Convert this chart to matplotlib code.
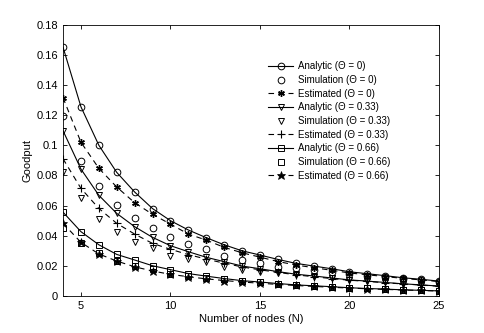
import numpy as np
import matplotlib
matplotlib.use('Agg')
import matplotlib.pyplot as plt
from matplotlib.ticker import FormatStrFormatter

plt.rcParams['font.family'] = ['Liberation Sans', 'DejaVu Sans']

# number of nodes
nodes = np.arange(4, 26)

# Theta = 0
analytic_0 = [0.165, 0.1255, 0.100, 0.082, 0.069, 0.058, 0.050, 0.0438, 0.0387, 0.034, 0.030,
              0.0272, 0.0243, 0.0217, 0.0199, 0.0181, 0.0161, 0.0148, 0.0135, 0.0121, 0.0111, 0.0099]
sim_0 = [0.1196, 0.0893, 0.073, 0.0603, 0.0517, 0.0449, 0.0391, 0.0343, 0.031, 0.0265, 0.0237,
         0.0217, 0.0194, 0.0183, 0.0170, 0.0158, 0.0146, 0.0136, 0.0126, 0.0115, 0.0106, 0.0096]
est_0 = [0.1315, 0.102, 0.0847, 0.0723, 0.0619, 0.0542, 0.0477, 0.0411, 0.0371, 0.0323, 0.0287,
         0.0258, 0.0229, 0.0206, 0.0188, 0.0171, 0.0153, 0.0141, 0.0129, 0.0117, 0.0107, 0.0096]

# Theta = 0.33
analytic_33 = [0.1096, 0.0842, 0.0668, 0.0548, 0.046, 0.0389, 0.0334, 0.0294, 0.0257, 0.0228, 0.0199,
               0.0181, 0.0162, 0.0145, 0.0133, 0.0120, 0.0107, 0.0099, 0.0090, 0.0081, 0.0074, 0.0066]
sim_33 = [0.0822, 0.0648, 0.0511, 0.0427, 0.036, 0.0316, 0.0268, 0.0248, 0.0228, 0.0195, 0.0172,
          0.0161, 0.0150, 0.0139, 0.0128, 0.0117, 0.0106, 0.0098, 0.0090, 0.0082, 0.0075, 0.0068]
est_33 = [0.091, 0.0714, 0.0581, 0.0482, 0.0411, 0.0349, 0.031, 0.0275, 0.0245, 0.0218, 0.0193,
          0.0174, 0.0157, 0.0141, 0.0128, 0.0116, 0.0105, 0.0097, 0.0088, 0.0080, 0.0073, 0.0065]

# Theta = 0.66
analytic_66 = [0.0556, 0.0427, 0.034, 0.0276, 0.0239, 0.0201, 0.0175, 0.0149, 0.0132, 0.0116, 0.0102,
               0.0093, 0.0083, 0.0074, 0.0068, 0.0062, 0.0055, 0.0050, 0.0046, 0.0041, 0.0038, 0.0034]
sim_66 = [0.0449, 0.0349, 0.0283, 0.0234, 0.0199, 0.0179, 0.0146, 0.0135, 0.0122, 0.0110, 0.0098,
          0.0090, 0.0081, 0.0073, 0.0067, 0.0061, 0.0055, 0.0050, 0.0046, 0.0042, 0.0038, 0.0035]
est_66 = [0.0482, 0.0356, 0.0279, 0.0232, 0.0194, 0.0166, 0.0144, 0.0128, 0.0114, 0.0103, 0.0093,
          0.0085, 0.0077, 0.0070, 0.0064, 0.0058, 0.0053, 0.0048, 0.0044, 0.0040, 0.0037, 0.0033]

fig = plt.figure(figsize=(4.85, 3.33), dpi=100)
ax = fig.add_axes([0.130, 0.111, 0.775, 0.815])

ms = 4.8
lw = 0.8
dash = (5, 4)
mk = dict(markerfacecolor='none', markeredgecolor='k', markeredgewidth=0.7, markersize=ms)

ax.plot(nodes, analytic_0, '-o', color='k', lw=lw, label='Analytic (Θ = 0)', **mk)
ax.plot(nodes, sim_0, 'o', color='k', label='Simulation (Θ = 0)', **mk)
ax.plot(nodes, est_0, '--', color='k', lw=lw, dashes=dash, label='Estimated (Θ = 0)',
        marker=(6, 2, 0), markersize=ms, markeredgecolor='k', markeredgewidth=1.0)

ax.plot(nodes, analytic_33, '-v', color='k', lw=lw, label='Analytic (Θ = 0.33)', **mk)
ax.plot(nodes, sim_33, 'v', color='k', label='Simulation (Θ = 0.33)', **mk)
ax.plot(nodes, est_33, '--', color='k', lw=lw, dashes=dash, label='Estimated (Θ = 0.33)',
        marker='+', markersize=ms + 1, markeredgewidth=0.8)

ax.plot(nodes, analytic_66, '-s', color='k', lw=lw, label='Analytic (Θ = 0.66)', **mk)
ax.plot(nodes, sim_66, 's', color='k', label='Simulation (Θ = 0.66)', **mk)
ax.plot(nodes, est_66, '--', color='k', lw=lw, dashes=dash, label='Estimated (Θ = 0.66)',
        marker='*', markersize=ms + 1.5, markerfacecolor='k', markeredgecolor='k', markeredgewidth=0.5)

ax.set_xlim(4, 25)
ax.set_ylim(0, 0.18)
ax.set_xticks([5, 10, 15, 20, 25])
ax.set_yticks(np.arange(0, 0.181, 0.02))
ax.yaxis.set_major_formatter(FormatStrFormatter('%g'))
ax.tick_params(direction='in', top=True, right=True, labelsize=8, length=3, width=0.6)
for s in ax.spines.values():
    s.set_linewidth(0.6)

ax.set_xlabel('Number of nodes (N)', fontsize=8, labelpad=2)
ax.set_ylabel('Goodput', fontsize=8, labelpad=3)

ax.legend(loc='upper left', bbox_to_anchor=(0.54, 0.872), frameon=False, fontsize=7,
          handlelength=2.6, handletextpad=0.5, labelspacing=0.38, borderaxespad=0, borderpad=0.2)

fig.savefig('out.png', dpi=100)
